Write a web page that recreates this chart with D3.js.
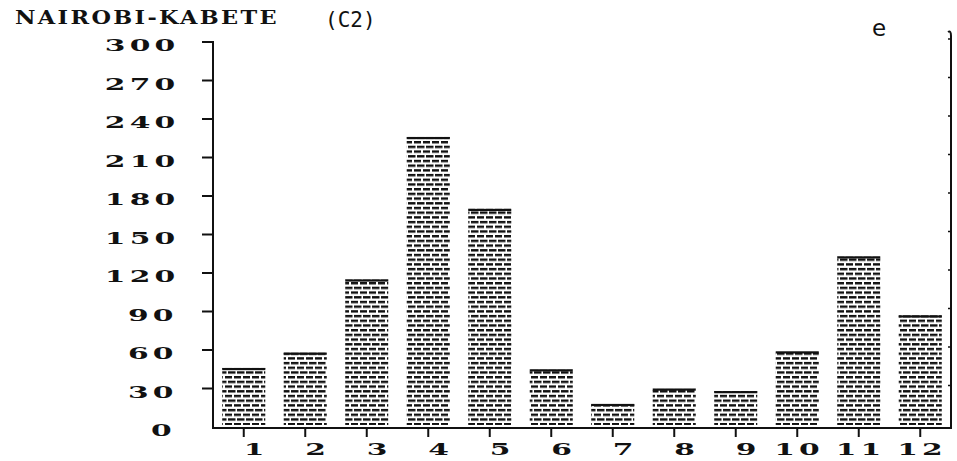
<!DOCTYPE html>
<html><head><meta charset="utf-8">
<script src="https://cdn.jsdelivr.net/npm/d3@7"></script>
<style>body{margin:0;background:#fff}svg{display:block}</style>
</head><body>
<svg id="c" width="957" height="461"></svg>
<script>
// ---- data ----
const months = ["1","2","3","4","5","6","7","8","9","10","11","12"];
const rainfall = [46, 58, 115, 226, 170, 45, 18, 30, 28, 59, 133, 87];
const yTickValues = [0, 30, 60, 90, 120, 150, 180, 210, 240, 270, 300];
const titleText = "NAIROBI-KABETE";
const codeText = "(C2)";
const panelText = "e";

// ---- layout ----
const svg = d3.select("#c");
const X0 = 213, X1 = 951, Y0 = 427, Y1 = 42;
const x = d3.scaleBand().domain(months).range([X0, X1]).paddingInner(0.3).paddingOuter(0.15);
const y = d3.scaleLinear().domain([0, 300]).range([Y0, Y1]);
const ink = "#111";

// texture of the printed bars
const defs = svg.append("defs");
const pat = defs.append("pattern").attr("id", "tex").attr("patternUnits", "userSpaceOnUse")
  .attr("width", 9).attr("height", 9.4);
pat.append("rect").attr("width", 9).attr("height", 9.4).attr("fill", "#fff");
pat.append("rect").attr("x", 0).attr("y", 0).attr("width", 7).attr("height", 2.4).attr("fill", ink);
pat.append("rect").attr("x", 3).attr("y", 4.7).attr("width", 6).attr("height", 2.4).attr("fill", ink);
pat.append("rect").attr("x", 0).attr("y", 4.7).attr("width", 1.5).attr("height", 2.4).attr("fill", ink);

// bars
const bars = svg.append("g");
bars.selectAll("rect.bar").data(rainfall).join("rect").attr("class", "bar")
  .attr("x", (d, i) => x(months[i])).attr("width", x.bandwidth())
  .attr("y", d => y(d)).attr("height", d => Y0 - 2 - y(d))
  .attr("fill", "url(#tex)");
bars.selectAll("rect.top").data(rainfall).join("rect").attr("class", "top")
  .attr("x", (d, i) => x(months[i])).attr("width", x.bandwidth())
  .attr("y", d => y(d)).attr("height", 2.2).attr("fill", ink);

// axes lines
const ax = svg.append("g").attr("stroke", ink).attr("stroke-width", 2).attr("fill", "none");
ax.append("line").attr("x1", X0).attr("x2", X0).attr("y1", y(300) - 1).attr("y2", Y0 + 2);
ax.append("line").attr("x1", X0 - 1).attr("x2", X1).attr("y1", Y0 + 1).attr("y2", Y0 + 1);
ax.append("path").attr("d", `M${X1 - 3},${y(300) - 10} Q${X1},${y(300) - 12} ${X1},${y(300) - 6} L${X1},${Y0 + 2}`);
// y ticks (left, outward) and right border ticks (inward)
ax.selectAll("line.yt").data(yTickValues.filter(v => v > 0)).join("line").attr("class", "yt")
  .attr("x1", X0 - 11).attr("x2", X0).attr("y1", d => y(d)).attr("y2", d => y(d));
ax.selectAll("line.rt").data(yTickValues.filter(v => v > 0)).join("line").attr("class", "rt")
  .attr("stroke-width", 1.5)
  .attr("x1", X1 - 3).attr("x2", X1).attr("y1", d => y(d) - 3).attr("y2", d => y(d) - 3);
// x ticks
ax.selectAll("line.xt").data(months).join("line").attr("class", "xt")
  .attr("x1", d => x(d) + x.bandwidth() / 2).attr("x2", d => x(d) + x.bandwidth() / 2)
  .attr("y1", Y0 + 1).attr("y2", Y0 + 10);

// stencil-like printer font
const FONT = "DejaVu Serif, serif";
const FS = 17, SX = 1.75, LS = 2.4;
const ADV = FS * 0.636;
const cell = (ADV + LS) * SX;
function printer(g, str, xRight, base) {
  const n = str.length;
  const xs = xRight - n * cell + LS * SX;
  g.append("text")
    .attr("transform", `translate(${xs},${base}) scale(${SX},1)`)
    .attr("font-family", FONT)
    .attr("font-weight", "bold").attr("font-size", FS)
    .attr("letter-spacing", LS).attr("fill", ink)
    .text(str);
}
const lab = svg.append("g");
yTickValues.forEach(v => printer(lab, String(v), 170, y(v) + 9));
months.forEach(m => printer(lab, m, x(m) + x.bandwidth() / 2 + 19, 455));

// title
svg.append("text")
  .attr("transform", `translate(15,24) scale(1.18,1)`)
  .attr("font-family", FONT)
  .attr("font-weight", "bold").attr("font-size", 19).attr("letter-spacing", 2)
  .attr("fill", ink).text(titleText);
svg.append("text").attr("x", 325).attr("y", 27)
  .attr("font-family", "DejaVu Sans Mono, monospace").attr("font-size", 21)
  .attr("fill", ink).text(codeText);
svg.append("text").attr("x", 872).attr("y", 36)
  .attr("font-family", "DejaVu Sans, sans-serif").attr("font-size", 23)
  .attr("fill", ink).text(panelText);
</script>
</body></html>
